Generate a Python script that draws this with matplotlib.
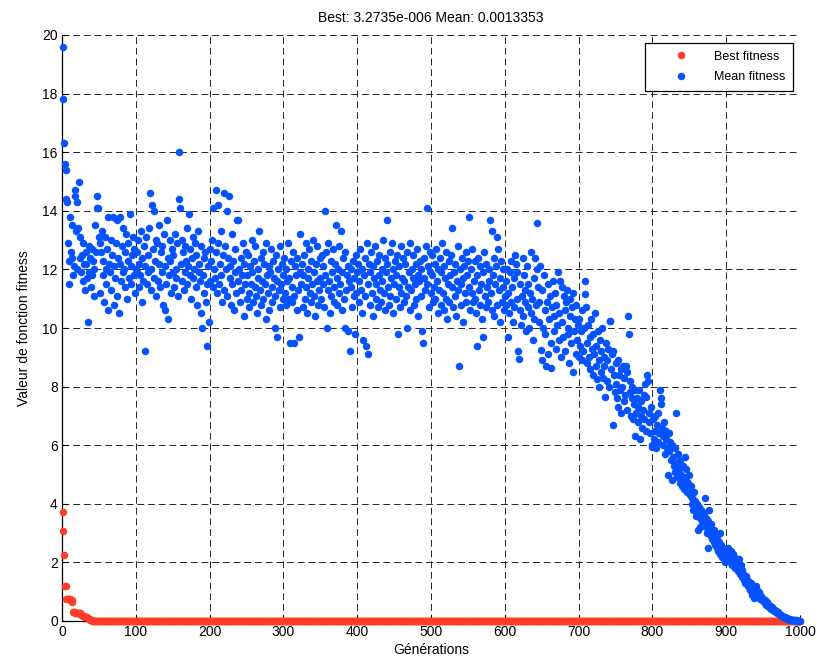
import numpy as np
import matplotlib
matplotlib.use('Agg')
import matplotlib.pyplot as plt

# Valeurs (generations 1..1000)
best_start = [3.72, 3.06, 2.26, 1.21, 1.19, 0.75, 0.75, 0.74, 0.74, 0.74,
              0.74, 0.73, 0.72, 0.66, 0.31, 0.30, 0.30, 0.29, 0.29, 0.28,
              0.28, 0.27, 0.27, 0.27, 0.26, 0.20, 0.19, 0.18, 0.18, 0.17,
              0.15, 0.13, 0.12, 0.12, 0.10, 0.08, 0.06, 0.05, 0.03, 0.02,
              0.01, 0.005]
best_rest = [0.0] * (1000 - len(best_start))  # tout a zero ensuite (~3e-6)
best_fitness = best_start + best_rest

mean_fitness = [
    19.6, 17.8, 16.3, 15.6, 15.4, 14.4, 14.3, 12.9, 12.3, 11.5, 13.8, 12.6, 13.5, 12.4, 11.8, 12.1, 14.5, 14.7, 13.3, 12.0, 14.3, 13.4, 15.0, 13.1, 12.4, 11.9, 12.5, 11.6, 12.9, 12.2, 11.3, 12.6, 12.2, 11.7, 10.2, 12.8, 11.9, 12.4, 11.4, 12.7, 11.8, 12.3, 11.1, 12.0, 13.5, 12.6, 14.1, 14.5, 14.1, 13.1,
    12.9, 11.2, 12.6, 13.3, 11.8, 12.3, 10.9, 13.1, 12.0, 11.5, 12.7, 10.6, 13.8, 12.2, 11.9, 13.0, 11.3, 12.5, 13.8, 10.8, 12.1, 11.7, 12.9, 13.7, 11.1, 12.4, 10.5, 13.8, 12.2, 11.6, 12.8, 11.9, 13.4, 12.0, 11.4, 12.6, 13.2, 11.0, 12.3, 12.9, 11.7, 13.9, 12.1, 11.5, 12.5, 13.1, 11.8, 12.7, 11.2, 12.0,
    11.9, 12.6, 13.0, 11.4, 12.2, 11.8, 13.3, 12.4, 10.9, 11.6, 12.8, 9.2, 12.1, 13.1, 11.5, 12.5, 11.9, 13.4, 14.6, 12.0, 11.3, 14.2, 12.7, 14.0, 11.7, 12.3, 13.0, 11.1, 12.9, 11.6, 12.2, 13.5, 11.4, 12.6, 11.9, 12.8, 10.8, 13.2, 12.1, 10.6, 11.5, 13.7, 10.3, 12.4, 11.8, 13.0, 12.3, 11.2, 12.7, 11.9,
    12.5, 11.4, 13.2, 12.0, 11.7, 12.9, 11.1, 16.0, 14.4, 14.1, 12.2, 11.6, 13.0, 12.6, 11.3, 12.8, 11.9, 12.3, 13.4, 11.5, 12.1, 13.9, 11.8, 12.7, 11.0, 12.4, 13.1, 11.7, 12.0, 12.9, 11.4, 12.5, 10.8, 13.3, 11.9, 12.2, 11.6, 12.8, 10.5, 10.0, 11.8, 12.4, 11.2, 12.6, 10.9, 9.4, 11.5, 12.1, 10.2, 12.7,
    11.6, 12.3, 13.0, 11.4, 14.1, 12.0, 11.7, 14.7, 12.6, 11.2, 14.2, 12.9, 11.5, 12.2, 13.3, 11.8, 10.9, 12.5, 14.6, 11.3, 12.8, 12.0, 11.1, 14.0, 12.4, 14.5, 11.7, 12.1, 10.8, 13.2, 11.5, 12.3, 10.6, 11.9, 12.7, 11.2, 13.7, 11.6, 13.7, 12.0, 10.9, 12.4, 11.3, 11.8, 12.9, 10.4, 12.2, 11.5, 12.6, 11.0,
    11.8, 12.5, 11.2, 10.7, 12.1, 11.5, 13.0, 11.9, 10.9, 12.3, 11.4, 12.8, 11.1, 10.5, 12.0, 11.7, 13.3, 11.3, 12.4, 10.8, 11.6, 12.6, 11.0, 12.2, 11.5, 10.3, 12.9, 11.8, 11.2, 12.1, 10.6, 11.9, 12.7, 11.4, 10.9, 12.3, 11.7, 11.1, 10.0, 12.5, 11.6, 9.7, 12.0, 11.3, 12.8, 10.7, 11.5, 12.2, 11.0, 11.8,
    12.4, 11.2, 10.8, 12.0, 11.6, 12.9, 11.0, 11.7, 9.5, 12.3, 11.4, 10.9, 12.6, 11.1, 9.5, 12.1, 11.8, 10.6, 12.4, 11.3, 9.7, 11.9, 13.2, 11.5, 12.2, 10.7, 11.8, 12.5, 11.0, 12.9, 11.4, 10.5, 12.0, 11.7, 12.7, 11.2, 10.9, 12.3, 11.5, 13.0, 11.1, 11.9, 10.4, 12.2, 11.6, 12.8, 10.8, 11.3, 12.4, 11.7,
    11.0, 12.5, 11.5, 12.1, 10.7, 14.0, 11.8, 12.6, 10.0, 11.3, 12.9, 11.6, 10.5, 12.3, 11.1, 11.9, 12.7, 10.9, 11.4, 12.2, 13.5, 11.7, 10.8, 12.0, 11.2, 12.8, 11.5, 13.3, 10.6, 11.9, 12.4, 11.0, 10.0, 12.6, 11.3, 11.8, 9.9, 12.1, 11.6, 9.2, 12.0, 11.4, 10.7, 12.3, 11.1, 11.7, 9.8, 12.5, 11.2, 11.9,
    12.2, 10.9, 11.6, 12.7, 11.3, 10.5, 12.0, 9.6, 11.8, 12.4, 11.1, 9.4, 12.9, 9.1, 11.5, 12.2, 10.8, 11.9, 12.6, 11.2, 10.4, 12.1, 11.7, 12.8, 11.0, 11.5, 12.3, 10.7, 11.8, 12.5, 11.3, 10.9, 12.0, 11.6, 13.0, 11.2, 12.4, 10.6, 11.9, 12.2, 13.7, 11.4, 10.8, 12.6, 11.1, 11.7, 12.9, 10.5, 12.0, 11.5,
    12.3, 11.0, 11.8, 12.5, 9.8, 11.4, 12.1, 10.7, 12.8, 11.2, 11.7, 12.4, 10.9, 11.6, 12.2, 11.1, 10.0, 12.6, 11.4, 11.9, 12.9, 10.6, 11.3, 12.0, 11.7, 12.5, 10.8, 11.5, 12.2, 11.0, 12.7, 11.8, 10.4, 11.6, 12.3, 11.1, 12.0, 9.9, 9.5, 11.7, 12.4, 11.3, 12.8, 14.1, 11.5, 12.1, 10.7, 11.9, 12.6, 11.2,
    11.8, 12.5, 10.9, 11.4, 12.2, 11.0, 12.7, 11.6, 10.5, 12.0, 11.3, 12.4, 10.8, 11.9, 12.9, 11.2, 10.6, 12.1, 11.7, 12.6, 11.0, 10.3, 11.5, 12.3, 10.9, 11.8, 12.5, 11.4, 13.4, 10.7, 11.9, 12.2, 11.1, 10.4, 11.6, 12.8, 11.3, 8.7, 12.0, 11.5, 10.8, 12.4, 11.7, 10.2, 12.1, 11.2, 12.6, 10.9, 11.8, 12.3,
    13.8, 11.4, 10.6, 12.0, 11.2, 12.7, 10.9, 11.6, 12.3, 11.0, 10.5, 11.8, 9.4, 12.4, 11.3, 10.8, 12.1, 11.5, 10.3, 9.7, 11.9, 12.6, 11.1, 10.7, 12.2, 11.4, 10.9, 12.0, 11.6, 13.7, 11.2, 10.6, 13.3, 11.8, 12.4, 10.4, 11.5, 12.1, 10.8, 13.1, 12.7, 11.3, 10.2, 11.7, 12.3, 10.9, 11.4, 12.0, 10.6, 11.1,
    11.6, 10.8, 12.0, 9.7, 11.2, 10.5, 11.9, 10.9, 12.3, 11.4, 10.2, 11.7, 10.7, 12.5, 12.2, 11.0, 11.9, 9.2, 8.95, 10.6, 11.5, 10.1, 11.1, 12.4, 10.4, 11.8, 10.9, 11.3, 9.9, 12.1, 10.7, 11.5, 10.0, 11.2, 12.6, 10.5, 11.0, 9.6, 11.7, 10.3, 12.4, 10.8, 12.0, 13.6, 11.4, 10.2, 10.9, 12.1, 9.25, 8.9,
    11.3, 10.0, 11.8, 10.6, 9.8, 8.7, 10.9, 11.5, 9.1, 10.3, 11.1, 9.5, 8.65, 10.7, 11.6, 9.9, 10.4, 11.2, 9.3, 10.8, 10.1, 11.9, 9.6, 10.5, 11.6, 9.0, 10.2, 11.4, 9.7, 11.1, 10.6, 9.2, 10.9, 11.3, 9.8, 10.0, 8.8, 11.0, 10.4, 9.5, 10.7, 11.2, 8.5, 9.9, 10.3, 9.1, 10.8, 9.6, 10.1, 9.0,
    10.3, 9.4, 9.9, 8.9, 10.6, 9.2, 10.0, 11.6, 11.15, 10.7, 9.5, 8.8, 10.1, 9.0, 9.7, 8.6, 10.3, 9.3, 8.4, 9.8, 9.1, 10.5, 8.7, 9.4, 8.25, 9.9, 8.9, 8.0, 9.6, 8.5, 9.2, 10.0, 8.3, 9.0, 8.7, 7.65, 9.5, 8.2, 8.9, 9.3, 8.0, 10.25, 10.25, 8.6, 9.1, 6.7, 9.2, 8.4, 7.8, 8.8,
    8.1, 7.6, 8.9, 7.3, 8.4, 7.9, 8.6, 7.1, 8.0, 8.7, 7.5, 8.3, 7.7, 8.7, 7.2, 8.5, 10.4, 9.8, 7.8, 8.2, 7.0, 7.6, 8.0, 6.9, 7.4, 6.3, 7.9, 7.1, 7.6, 6.8, 7.3, 7.9, 6.2, 7.0, 7.5, 6.6, 7.2, 6.9, 7.7, 8.1, 7.65, 6.5, 8.4, 8.2, 6.8, 7.1, 6.4, 7.3, 6.0, 5.95,
    6.9, 6.2, 7.0, 6.5, 5.9, 6.7, 6.1, 7.1, 6.4, 7.9, 7.6, 7.4, 6.6, 6.0, 6.3, 6.8, 5.7, 6.2, 6.5, 5.9, 5.0, 6.4, 5.8, 6.1, 5.5, 6.0, 4.8, 5.6, 5.3, 5.9, 5.1, 7.1, 5.4, 4.9, 5.7, 5.2, 4.7, 5.5, 5.0, 4.6, 5.3, 4.8, 4.5, 5.6, 4.9, 5.2, 4.4, 4.7, 5.0, 4.5,
    4.3, 4.6, 4.0, 4.2, 3.8, 4.4, 3.9, 4.1, 3.6, 4.0, 3.7, 3.1, 3.9, 3.2, 3.5, 3.8, 3.4, 3.6, 3.3, 3.7, 4.2, 3.2, 3.5, 3.0, 2.5, 3.4, 3.8, 3.1, 2.9, 3.3, 2.8, 3.0, 2.7, 3.1, 2.6, 2.9, 2.5, 2.8, 2.4, 2.7, 3.0, 2.3, 2.6, 2.2, 2.5, 2.3, 2.1, 2.0, 2.4, 2.2,
    2.3, 2.1, 2.5, 2.2, 2.0, 2.4, 2.1, 1.9, 2.3, 2.0, 2.2, 1.8, 2.1, 1.9, 2.0, 1.7, 2.1, 1.8, 1.6, 1.9, 1.5, 1.75, 1.6, 1.4, 1.5, 1.3, 1.55, 1.4, 1.2, 1.35, 1.25, 1.05, 1.3, 1.15, 0.9, 1.1, 0.8, 1.15, 1.0, 0.95, 1.2, 1.05, 0.85, 1.0, 0.9, 0.75, 0.85, 0.8, 0.7, 0.75,
    0.65, 0.7, 0.6, 0.55, 0.65, 0.5, 0.58, 0.48, 0.52, 0.45, 0.4, 0.47, 0.38, 0.42, 0.35, 0.37, 0.3, 0.33, 0.27, 0.3, 0.24, 0.25, 0.2, 0.22, 0.17, 0.18, 0.14, 0.15, 0.12, 0.11, 0.1, 0.08, 0.09, 0.07, 0.06, 0.06, 0.05, 0.04, 0.04, 0.03, 0.03, 0.02, 0.02, 0.02, 0.01, 0.01, 0.01, 0.005, 0.003, 0.0013,
]

titre = 'Best: 3.2735e-006 Mean: 0.0013353'
xlabel = 'Générations'
ylabel = 'Valeur de fonction fitness'
xticks = list(range(0, 1001, 100))
yticks = list(range(0, 21, 2))

plt.rcParams['font.family'] = ['Liberation Sans', 'DejaVu Sans']
rouge = '#ff3c28'
bleu = '#0752ff'

gens_best = np.arange(1, len(best_fitness) + 1)
gens_mean = np.arange(1, len(mean_fitness) + 1)

fig = plt.figure(figsize=(8.23, 6.68), dpi=100)
ax = fig.add_axes([62/823, 1 - 621/668, (800 - 62)/823, (621 - 35)/668])

ax.plot(gens_best, best_fitness, 'o', color=rouge, markersize=5.4, markeredgewidth=0,
        label='Best fitness', clip_on=False, zorder=3)
ax.plot(gens_mean, mean_fitness, 'o', color=bleu, markersize=5.4, markeredgewidth=0,
        label='Mean fitness', clip_on=False, zorder=4)

ax.set_xlim(0, 1000); ax.set_ylim(0, 20)
ax.set_xticks(xticks); ax.set_yticks(yticks)
ax.tick_params(direction='in', length=4, width=0.8, labelsize=10, pad=3)
ax.grid(True, color='0.15', linestyle=(0, (7, 4)), linewidth=0.7)
ax.set_axisbelow(True)
for s in ['top', 'right']:
    ax.spines[s].set_visible(False)
for s in ['left', 'bottom']:
    ax.spines[s].set_linewidth(0.9)

ax.set_title(titre, fontsize=10, pad=9)
ax.set_xlabel(xlabel, fontsize=10, labelpad=3)
ax.set_ylabel(ylabel, fontsize=10, labelpad=8)

leg = ax.legend(loc='upper right', bbox_to_anchor=(0.9985, 0.997), fontsize=9,
                fancybox=False, framealpha=1, edgecolor='black',
                borderpad=0.6, labelspacing=0.7, handletextpad=0.3, handlelength=4.6)
leg.get_frame().set_linewidth(0.9)

fig.savefig('out.png', dpi=100)
